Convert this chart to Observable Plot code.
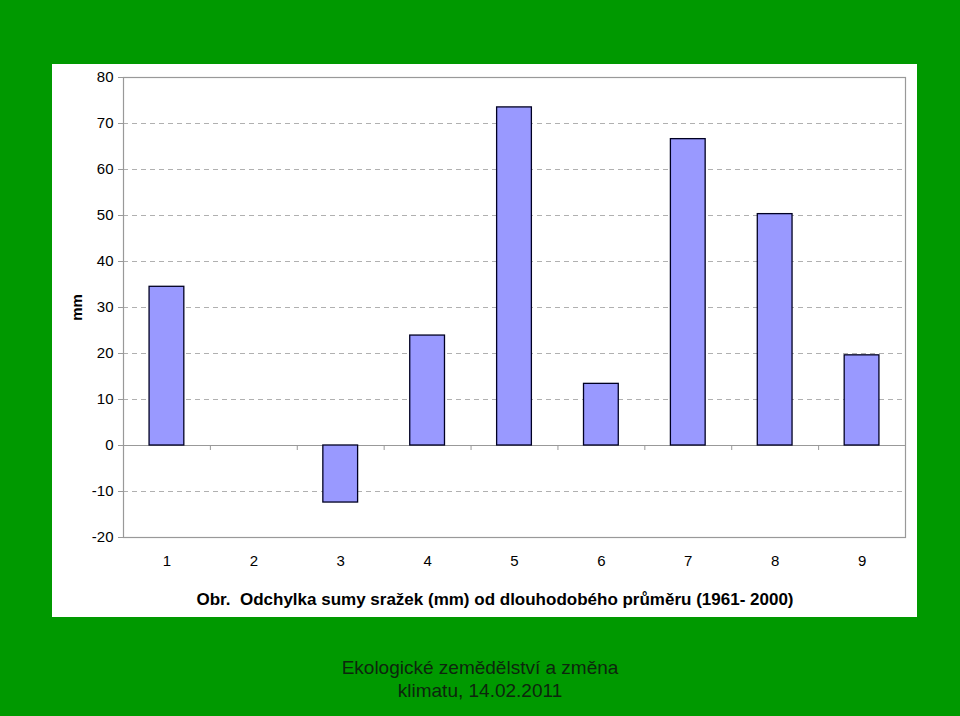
<!DOCTYPE html>
<html>
<head>
<meta charset="utf-8">
<script src="https://cdn.jsdelivr.net/npm/d3@7"></script>
<script src="https://cdn.jsdelivr.net/npm/@observablehq/plot@0.6"></script>
<style>
  html, body { margin: 0; padding: 0; }
  body { width: 960px; height: 716px; background: #009900; position: relative; overflow: hidden; font-family: "Liberation Sans", Arial, sans-serif; }
  #panel { position: absolute; left: 52px; top: 64px; width: 865px; height: 553px; background: #fff; }
  #chart { position: absolute; left: 0; top: 0; }
  #chart svg text { font-size: 15px !important; }
  #caption { position: absolute; left: 495px; top: 590px; transform: translateX(-50%); white-space: nowrap; font-weight: bold; font-size: 17px; color: #000; }
  #footer { position: absolute; left: 0; width: 960px; top: 656px; text-align: center; font-size: 19px; line-height: 23px; color: #0d260d; }
</style>
</head>
<body>
<div id="panel"><div id="chart"></div></div>
<div id="caption">Obr.&nbsp; Odchylka sumy sražek (mm) od dlouhodobého průměru (1961- 2000)</div>
<div id="footer">Ekologické zemědělství a změna<br>klimatu, 14.02.2011</div>
<script>
const categories = [1, 2, 3, 4, 5, 6, 7, 8, 9];
const deviations = [34.5, null, -12.4, 23.9, 73.5, 13.4, 66.6, 50.3, 19.6];
const yTicks = [-20, -10, 0, 10, 20, 30, 40, 50, 60, 70, 80];
const gridValues = [-10, 10, 20, 30, 40, 50, 60, 70];
const boundaries = [1.5, 2.5, 3.5, 4.5, 5.5, 6.5, 7.5, 8.5];
const yLabel = "mm";

const data = categories.map((c, i) => ({cat: c, val: deviations[i]})).filter(d => d.val != null);
const halfWidth = 0.2;

const chart = Plot.plot({
  width: 865,
  height: 515,
  marginLeft: 71,
  marginRight: 12,
  marginTop: 13,
  marginBottom: 42,
  style: {fontFamily: "'Liberation Sans', Arial, sans-serif", fontSize: "15px", color: "#000", background: "transparent"},
  x: {domain: [0.5, 9.5], axis: null},
  y: {domain: [-20, 80], axis: null},
  marks: [
    Plot.ruleY(gridValues, {stroke: "#b0b0b0", strokeDasharray: "5,4", strokeWidth: 1}),
    Plot.ruleY([0], {stroke: "#999", strokeWidth: 1}),
    Plot.ruleX(boundaries, {x: d => d, y1: 0, y2: 0, insetBottom: -5, stroke: "#999"}),
    Plot.rectY(data, {x1: d => d.cat - halfWidth, x2: d => d.cat + halfWidth, y1: 0, y2: "val", fill: "#9999ff", stroke: "#000022", strokeWidth: 1.3}),
    Plot.frame({stroke: "#999", strokeWidth: 1.2}),
    Plot.axisY({ticks: yTicks, tickSize: 5, tickPadding: 5, stroke: "#999", label: null, tickFormat: d => String(d)}),
    Plot.axisX({ticks: categories, tickSize: 0, tickPadding: 18, label: null, tickFormat: d => String(d)}),
    Plot.text([yLabel], {frameAnchor: "left", textAnchor: "middle", text: d => d, rotate: -90, dx: -46, fontWeight: "bold"})
  ]
});
document.getElementById("chart").appendChild(chart);
</script>
</body>
</html>
